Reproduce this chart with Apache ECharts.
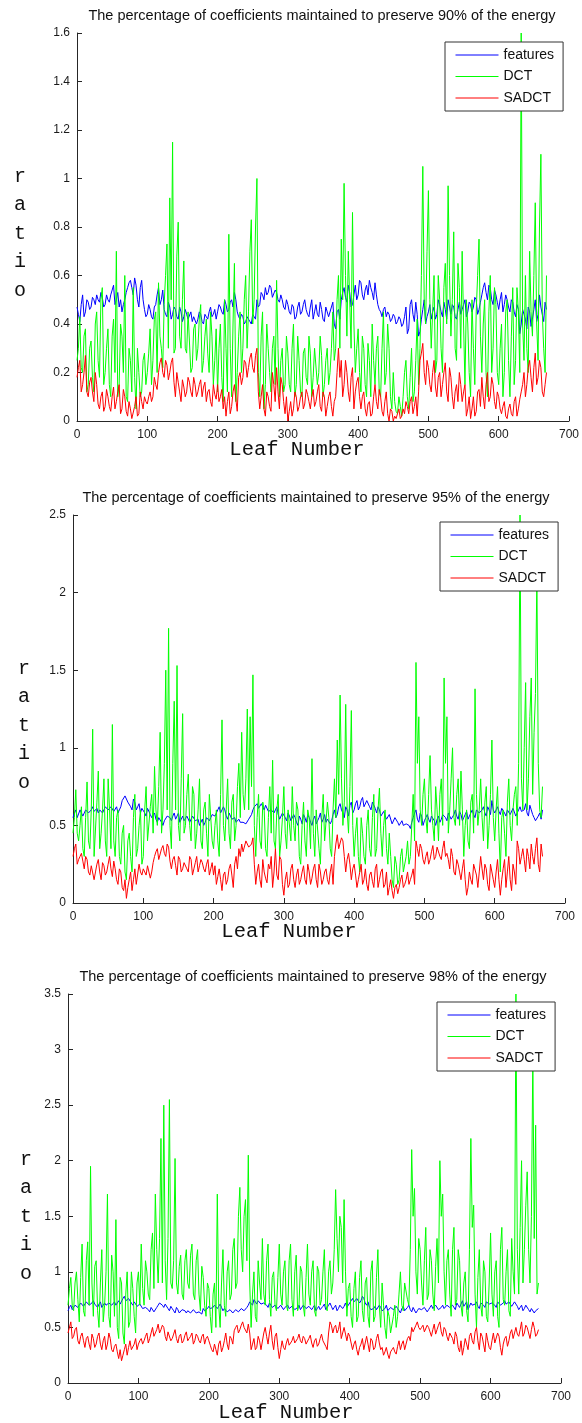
<!DOCTYPE html>
<html>
<head>
<meta charset="utf-8">
<script src="https://cdn.jsdelivr.net/npm/echarts@6/dist/echarts.min.js"></script>
<style>
  html, body { margin: 0; padding: 0; background: #ffffff; }
  #chart { width: 582px; height: 1423px; }
</style>
</head>
<body>
<div id="chart"></div>
<script>
// Ratio of retained coefficients per leaf. The main arrays hold leaves 0, 4, 8, ... 668;
// the *Mid arrays hold the leaves in between (2, 6, 10, ... 666).
const LEAF_STEP = 4;

const seriesNames = ['features', 'DCT', 'SADCT'];
const titles = [
  'The percentage of coefficients maintained to preserve 90% of the energy',
  'The percentage of coefficients maintained to preserve 95% of the energy',
  'The percentage of coefficients maintained to preserve 98% of the energy'
];
const xAxisName = 'Leaf Number';
const yAxisName = 'ratio';

// ---- 90% energy ----
const features90 = [
  0.47,0.41,0.52,0.45,0.49, 0.47,0.5,0.52,0.49,0.51, 0.48,0.5,0.52,0.56,0.5, 0.47,0.45,0.5,0.55,0.58, 0.52,0.56,0.47,0.58,0.46,
  0.44,0.46,0.42,0.48,0.55, 0.5,0.46,0.43,0.47,0.44, 0.46,0.42,0.45,0.43,0.44, 0.42,0.41,0.43,0.42,0.44, 0.4,0.43,0.45,0.43,0.46,
  0.45,0.47,0.44,0.48,0.46, 0.5,0.53,0.45,0.42,0.43, 0.41,0.42,0.4,0.43,0.5, 0.48,0.52,0.55,0.53,0.55, 0.51,0.53,0.49,0.5,0.46,
  0.48,0.44,0.47,0.43,0.49, 0.45,0.5,0.44,0.47,0.42, 0.48,0.43,0.46,0.41,0.45, 0.43,0.49,0.38,0.46,0.5, 0.55,0.49,0.53,0.48,0.56,
  0.52,0.57,0.5,0.56,0.58, 0.53,0.57,0.48,0.45,0.46, 0.43,0.44,0.42,0.43,0.41, 0.42,0.4,0.47,0.38,0.5, 0.41,0.44,0.37,0.46,0.4,
  0.45,0.42,0.47,0.44,0.48, 0.43,0.46,0.5,0.44,0.47, 0.42,0.49,0.46,0.5,0.45, 0.48,0.47,0.5,0.46,0.52, 0.57,0.5,0.55,0.48,0.52,
  0.46,0.53,0.48,0.5,0.45, 0.49,0.43,0.46,0.4,0.44, 0.38,0.45,0.42,0.5,0.44, 0.47,0.41,0.46
];
const features90Mid = [
  0.44,0.48,0.43,0.5,0.46, 0.51,0.48,0.5,0.53,0.47, 0.52,0.49,0.54,0.48,0.53, 0.5,0.48,0.53,0.57,0.55, 0.59,0.5,0.55,0.5,0.43,
  0.48,0.43,0.47,0.52,0.48, 0.54,0.44,0.49,0.42,0.47, 0.43,0.47,0.41,0.46,0.42, 0.45,0.43,0.4,0.45,0.41, 0.44,0.42,0.47,0.44,0.42,
  0.48,0.45,0.5,0.45,0.49, 0.47,0.5,0.43,0.44,0.4, 0.43,0.41,0.44,0.42,0.47, 0.53,0.5,0.52,0.56,0.51, 0.54,0.5,0.52,0.47,0.5,
  0.45,0.48,0.42,0.47,0.44, 0.48,0.46,0.43,0.5,0.45, 0.44,0.49,0.42,0.47,0.43, 0.47,0.4,0.45,0.42,0.53, 0.51,0.56,0.47,0.52,0.5,
  0.58,0.52,0.54,0.52,0.55, 0.5,0.52,0.46,0.43,0.47, 0.45,0.41,0.44,0.4,0.43, 0.39,0.43,0.36,0.48,0.44, 0.49,0.35,0.42,0.5,0.43,
  0.48,0.45,0.42,0.5,0.45, 0.49,0.42,0.47,0.48,0.43, 0.46,0.44,0.48,0.43,0.49, 0.45,0.51,0.44,0.49,0.55, 0.53,0.56,0.5,0.54,0.49,
  0.5,0.45,0.52,0.47,0.5, 0.45,0.48,0.36,0.46,0.42, 0.47,0.39,0.46,0.41,0.52, 0.44,0.49
];
const dct90 = [
  0.25,0.43,0.2,0.38,0.15, 0.33,0.12,0.45,0.18,0.55, 0.2,0.38,0.1,0.42,0.7, 0.15,0.35,0.6,0.08,0.25, 0.55,0.05,0.2,0.12,0.28,
  0.2,0.38,0.25,0.45,0.57, 0.3,0.48,0.73,0.92,1.15, 0.3,0.82,0.3,0.66,0.28, 0.45,0.22,0.4,0.3,0.48, 0.25,0.42,0.2,0.35,0.25,
  0.12,0.4,0.08,0.3,0.77, 0.1,0.65,0.2,0.45,0.3, 0.6,0.45,0.83,0.5,1.0, 0.1,0.45,0.15,0.3,0.12, 0.35,0.58,0.1,0.3,0.15,
  0.28,0.12,0.4,0.15,0.25, 0.1,0.3,0.15,0.28,0.18, 0.3,0.2,0.27,0.15,0.3, 0.2,0.45,0.3,0.6,0.75, 0.98,0.35,0.5,0.86,0.2,
  0.38,0.12,0.3,0.1,0.25, 0.4,0.15,0.35,0.1,0.45, 0.2,0.3,0.05,0.08,0.03, 0.06,0.1,0.25,0.05,0.3, 0.12,0.42,0.3,1.05,0.4,
  0.95,0.3,0.6,0.25,0.5, 0.2,0.65,0.97,0.35,0.78, 0.25,0.55,0.7,0.15,0.4, 0.1,0.3,0.45,0.75,0.2, 0.5,0.1,0.6,0.3,0.48,
  0.15,0.4,0.2,0.5,0.1, 0.55,0.25,0.45,1.6,0.25, 0.3,0.7,0.35,0.9,0.25, 1.1,0.3,0.6
];
const dct90Mid = [
  0.3,0.22,0.35,0.12,0.3, 0.18,0.4,0.25,0.5,0.15, 0.3,0.15,0.35,0.2,0.1, 0.4,0.2,0.1,0.3,0.12, 0.18,0.3,0.1,0.25,0.15,
  0.28,0.15,0.42,0.2,0.35, 0.22,0.6,0.3,0.5,0.28, 0.68,0.35,0.5,0.3,0.45, 0.2,0.38,0.25,0.42,0.2, 0.35,0.28,0.45,0.15,0.38,
  0.3,0.18,0.5,0.12,0.3, 0.4,0.08,0.35,0.2,0.5, 0.3,0.7,0.4,0.8,0.2, 0.35,0.05,0.4,0.2,0.3, 0.15,0.3,0.25,0.12,0.35,
  0.15,0.3,0.1,0.35,0.12, 0.28,0.18,0.35,0.1,0.3, 0.15,0.35,0.1,0.25,0.15, 0.3,0.25,0.5,0.3,0.5, 0.6,0.7,0.3,0.4,0.3,
  0.2,0.35,0.15,0.32,0.1, 0.25,0.3,0.12,0.3,0.15, 0.4,0.1,0.2,0.04,0.1, 0.02,0.2,0.1,0.18,0.08, 0.25,0.15,0.6,0.5,0.7,
  0.5,0.45,0.2,0.6,0.3, 0.55,0.4,0.6,0.5,0.3, 0.65,0.3,0.4,0.5,0.2, 0.5,0.15,0.6,0.35,0.4, 0.2,0.45,0.2,0.55,0.2,
  0.3,0.1,0.45,0.25,0.35, 0.15,0.55,0.2,0.4,0.6, 0.2,0.45,0.6,0.4,0.8, 0.45,0.2
];
const sadct90 = [
  0.18,0.25,0.15,0.27,0.1, 0.18,0.08,0.15,0.05,0.12, 0.06,0.1,0.04,0.14,0.08, 0.15,0.05,0.1,0.02,0.05, 0.01,0.1,0.03,0.08,0.1,
  0.07,0.12,0.1,0.15,0.2, 0.26,0.18,0.23,0.2,0.26, 0.1,0.16,0.08,0.14,0.12, 0.16,0.1,0.15,0.12,0.17, 0.14,0.08,0.13,0.06,0.11,
  0.15,0.1,0.05,0.02,0.12, 0.06,0.15,0.04,0.2,0.18, 0.24,0.22,0.28,0.2,0.3, 0.05,0.15,0.02,0.1,0.04, 0.15,0.22,0.05,0.15,0.03,
  0,0.08,0.05,0.1,0.06, 0.12,0.07,0.11,0.05,0.13, 0.08,0.15,0.04,0.1,0.06, 0.12,0.02,0.1,0.3,0.25, 0.15,0.2,0.08,0.22,0.12,
  0.18,0.05,0.12,0.02,0.08, 0.03,0.15,0.05,0.1,0.02, 0.12,0,0.04,0.02,0.03, 0.01,0.05,0.08,0.03,0.1, 0.06,0.02,0.25,0.32,0.15,
  0.22,0.12,0.25,0.1,0.2, 0.15,0.24,0.08,0.18,0.05, 0.15,0.2,0.08,0.15,0.05, 0.01,0.1,0.04,0.13,0.18, 0.05,0.2,0.1,0.15,0.05,
  0.1,0.03,0.08,0.01,0.07, 0.02,0.1,0.05,0.12,0.2, 0.15,0.25,0.12,0.28,0.18, 0.22,0.1,0.2
];
const sadct90Mid = [
  0.22,0.12,0.2,0.12,0.16, 0.12,0.2,0.07,0.1,0.04, 0.13,0.06,0.1,0.05,0.12, 0.03,0.13,0.04,0.08,0.01, 0.06,0.02,0.12,0.05,0.08,
  0.1,0.08,0.18,0.13,0.24, 0.2,0.25,0.17,0.24,0.16, 0.2,0.12,0.17,0.1,0.18, 0.12,0.18,0.1,0.15,0.1, 0.16,0.12,0.08,0.15,0.09,
  0.08,0.13,0.1,0.08,0.03, 0.12,0.09,0.18,0.15,0.25, 0.18,0.26,0.22,0.27,0.12, 0.1,0.05,0.12,0.06,0.2, 0.08,0.12,0.18,0.08,0.1,
  0.04,0.02,0.12,0.04,0.1, 0.05,0.13,0.08,0.1,0.06, 0.12,0.06,0.12,0.02,0.1, 0.06,0.08,0.2,0.18,0.1, 0.25,0.12,0.18,0.05,0.16,
  0.1,0.1,0.05,0.07,0.02, 0.1,0.08,0.13,0.04,0.08, 0.03,0.05,0,0.01,0.05, 0.02,0.03,0.06,0.08,0.03, 0.1,0.12,0.28,0.2,0.25,
  0.15,0.2,0.14,0.18,0.1, 0.2,0.12,0.22,0.1,0.12, 0.08,0.15,0.12,0.02,0.1, 0.05,0.02,0.12,0.06,0.1, 0.15,0.08,0.18,0.08,0.12,
  0.05,0.06,0.02,0.05,0.03, 0.08,0.02,0.09,0.15,0.1, 0.22,0.18,0.22,0.15,0.25, 0.12,0.15
];

// ---- 95% energy ----
const features95 = [
  0.55,0.6,0.56,0.59,0.57, 0.61,0.58,0.62,0.6,0.58, 0.61,0.6,0.62,0.59,0.61, 0.6,0.58,0.62,0.65,0.68, 0.66,0.6,0.65,0.62,0.58,
  0.6,0.56,0.6,0.55,0.58, 0.52,0.56,0.5,0.54,0.57, 0.53,0.58,0.55,0.52,0.56, 0.54,0.57,0.53,0.55,0.52, 0.5,0.54,0.52,0.56,0.55,
  0.58,0.55,0.62,0.57,0.6, 0.54,0.56,0.53,0.52,0.54, 0.51,0.53,0.52,0.55,0.6, 0.63,0.61,0.64,0.6,0.62, 0.58,0.61,0.6,0.57,0.55,
  0.57,0.53,0.56,0.52,0.55, 0.5,0.54,0.57,0.52,0.55, 0.5,0.56,0.53,0.58,0.54, 0.52,0.55,0.53,0.6,0.57, 0.64,0.58,0.62,0.56,0.65,
  0.6,0.66,0.62,0.68,0.63, 0.67,0.6,0.64,0.58,0.6, 0.55,0.58,0.53,0.56,0.52, 0.54,0.5,0.53,0.49,0.52, 0.48,0.55,0.6,0.52,0.56,
  0.53,0.57,0.52,0.55,0.5, 0.56,0.54,0.58,0.53,0.56, 0.55,0.6,0.54,0.57,0.55, 0.59,0.56,0.6,0.55,0.61, 0.57,0.62,0.56,0.6,0.66,
  0.58,0.62,0.57,0.6,0.56, 0.61,0.58,0.6,0.57,0.62, 0.58,0.64,0.56,0.6,0.55, 0.52,0.58,0.6
];
const features95Mid = [
  0.58,0.55,0.6,0.56,0.6, 0.58,0.6,0.59,0.61,0.6, 0.58,0.62,0.6,0.62,0.59, 0.62,0.6,0.66,0.69,0.65, 0.62,0.67,0.6,0.64,0.61,
  0.58,0.61,0.57,0.56,0.54, 0.55,0.52,0.53,0.56,0.55, 0.56,0.54,0.58,0.54,0.53, 0.56,0.52,0.56,0.53,0.54, 0.52,0.5,0.55,0.53,0.57,
  0.56,0.6,0.58,0.62,0.56, 0.58,0.54,0.55,0.53,0.52, 0.52,0.51,0.54,0.57,0.62, 0.64,0.62,0.62,0.63,0.59, 0.6,0.58,0.62,0.54,0.58,
  0.55,0.58,0.53,0.57,0.52, 0.56,0.51,0.55,0.57,0.52, 0.54,0.51,0.55,0.52,0.57, 0.54,0.51,0.57,0.55,0.62, 0.6,0.55,0.6,0.63,0.58,
  0.64,0.6,0.66,0.62,0.66, 0.62,0.65,0.61,0.62,0.56, 0.59,0.54,0.57,0.51,0.55, 0.52,0.51,0.5,0.51,0.5, 0.52,0.58,0.54,0.58,0.5,
  0.55,0.54,0.56,0.53,0.54, 0.52,0.57,0.55,0.58,0.54, 0.57,0.56,0.59,0.53,0.57, 0.54,0.58,0.57,0.6,0.58, 0.6,0.58,0.62,0.57,0.6,
  0.6,0.59,0.61,0.58,0.6, 0.57,0.61,0.56,0.6,0.59, 0.6,0.58,0.63,0.57,0.53, 0.56,0.54
];
const dct95 = [
  0.45,0.73,0.4,0.62,0.3, 0.78,0.35,1.12,0.3,0.85, 0.45,0.8,0.3,0.6,1.15, 0.3,0.6,0.25,0.5,0.15, 0.45,0.2,0.7,0.35,0.6,
  0.3,0.75,0.4,0.7,0.88, 0.5,1.1,0.6,1.5,1.77, 0.35,1.3,1.53,0.4,1.22, 0.5,0.83,0.4,0.7,0.45, 0.8,0.35,0.65,0.3,0.55,
  0.35,0.6,0.3,1.18,0.4, 0.8,0.35,0.7,0.5,0.9, 1.1,0.6,1.25,1.2,1.47, 0.3,0.7,0.35,0.6,0.3, 0.75,0.92,0.35,0.7,0.4,
  0.75,0.35,0.6,0.75,0.4, 0.6,0.25,0.65,0.3,0.55, 0.93,0.3,0.6,0.25,0.7, 0.4,0.55,0.3,0.8,1.05, 1.34,0.5,1.28,0.45,1.24,
  0.3,0.55,0.2,0.45,0.25, 0.6,0.3,0.7,0.35,0.74, 0.3,0.6,0.25,0.3,0.1, 0.25,0.15,0.35,0.2,0.4, 0.3,0.7,1.55,1.2,0.5,
  0.8,0.45,0.95,0.5,0.75, 0.4,0.8,1.45,1.2,0.6, 1.0,0.5,0.8,0.85,0.3, 0.6,0.35,0.7,1.38,0.5, 0.8,0.4,0.75,0.5,1.05,
  0.4,0.75,0.2,0.6,0.3, 0.8,0.4,0.7,0.5,2.5, 0.6,1.42,0.8,1.45,1.1, 2.1,0.6,0.75
];
const dct95Mid = [
  0.55,0.45,0.5,0.35,0.55, 0.4,0.6,0.3,0.65,0.35, 0.6,0.4,0.8,0.35,0.4, 0.55,0.3,0.45,0.2,0.4, 0.3,0.55,0.3,0.5,0.25,
  0.6,0.4,0.62,0.45,0.6, 0.75,0.45,0.9,0.6,0.5, 0.9,0.6,0.5,0.8,0.45, 0.7,0.5,0.75,0.35,0.6, 0.4,0.6,0.45,0.7,0.4,
  0.5,0.4,0.7,0.5,0.6, 0.45,0.65,0.4,0.75,0.55, 0.7,0.8,0.6,0.75,0.5, 0.55,0.4,0.65,0.35,0.55, 0.45,0.4,0.6,0.3,0.55,
  0.45,0.6,0.4,0.5,0.65, 0.3,0.5,0.4,0.6,0.35, 0.45,0.6,0.35,0.55,0.4, 0.65,0.35,0.6,0.55,0.7, 0.8,0.65,0.6,0.75,0.5,
  0.45,0.3,0.55,0.3,0.5, 0.35,0.55,0.3,0.6,0.45, 0.5,0.35,0.45,0.15,0.3, 0.12,0.3,0.2,0.3,0.25, 0.5,0.4,0.9,0.6,0.7,
  0.55,0.7,0.6,0.4,0.6, 0.7,0.5,0.9,0.45,0.8, 0.55,0.7,0.5,0.6,0.5, 0.4,0.65,0.45,0.7,0.6, 0.55,0.65,0.35,0.7,0.55,
  0.6,0.45,0.55,0.45,0.65, 0.5,0.6,0.75,0.9,0.8, 1.0,0.6,1.2,0.7,1.35, 0.9,0.55
];
const sadct95 = [
  0.3,0.38,0.28,0.32,0.22, 0.28,0.18,0.25,0.2,0.28, 0.15,0.24,0.2,0.3,0.17, 0.22,0.12,0.2,0.08,0.03, 0.15,0.08,0.22,0.12,0.2,
  0.22,0.18,0.25,0.2,0.3, 0.35,0.28,0.37,0.3,0.36, 0.22,0.3,0.18,0.28,0.22, 0.27,0.2,0.28,0.22,0.3, 0.24,0.26,0.2,0.28,0.22,
  0.18,0.12,0.22,0.08,0.2, 0.15,0.25,0.1,0.3,0.35, 0.38,0.33,0.4,0.36,0.42, 0.12,0.25,0.1,0.2,0.13, 0.22,0.1,0.35,0.15,0.28,
  0.05,0.2,0.12,0.25,0.1, 0.22,0.15,0.24,0.12,0.2, 0.16,0.25,0.1,0.2,0.15, 0.22,0.12,0.25,0.3,0.44, 0.35,0.4,0.2,0.32,0.15,
  0.25,0.1,0.2,0.12,0.22, 0.08,0.2,0.1,0.25,0.15, 0.22,0.12,0.05,0.15,0.03, 0.12,0.1,0.18,0.12,0.2, 0.15,0.22,0.4,0.3,0.35,
  0.25,0.33,0.28,0.37,0.3, 0.35,0.28,0.4,0.32,0.22, 0.3,0.18,0.25,0.15,0.28, 0.05,0.2,0.12,0.25,0.1, 0.3,0.15,0.22,0.08,0.2,
  0.1,0.28,0.05,0.22,0.1, 0.3,0.08,0.2,0.4,0.25, 0.35,0.2,0.3,0.38,0.25, 0.42,0.2,0.3
];
const sadct95Mid = [
  0.35,0.25,0.3,0.27,0.3, 0.2,0.24,0.15,0.25,0.2, 0.26,0.18,0.25,0.22,0.27, 0.15,0.22,0.1,0.15,0.1, 0.2,0.15,0.12,0.25,0.18,
  0.2,0.24,0.16,0.26,0.33, 0.28,0.35,0.32,0.38,0.27, 0.28,0.24,0.3,0.2,0.26, 0.22,0.3,0.18,0.26,0.2, 0.28,0.22,0.25,0.18,0.26,
  0.24,0.17,0.15,0.18,0.12, 0.22,0.18,0.25,0.22,0.3, 0.33,0.4,0.36,0.38,0.25, 0.2,0.15,0.28,0.16,0.25, 0.3,0.2,0.18,0.3,0.12,
  0.15,0.1,0.22,0.15,0.18, 0.12,0.2,0.15,0.25,0.12, 0.22,0.15,0.25,0.12,0.2, 0.15,0.2,0.12,0.38,0.35, 0.42,0.3,0.28,0.25,0.22,
  0.18,0.15,0.25,0.15,0.12, 0.18,0.14,0.22,0.1,0.2, 0.1,0.2,0.1,0.08,0.1, 0.06,0.15,0.1,0.15,0.12, 0.18,0.12,0.35,0.38,0.28,
  0.3,0.25,0.33,0.28,0.36, 0.3,0.35,0.3,0.28,0.35, 0.2,0.28,0.2,0.22,0.15, 0.1,0.15,0.25,0.18,0.2, 0.22,0.25,0.12,0.25,0.15,
  0.2,0.15,0.15,0.28,0.2, 0.15,0.25,0.12,0.35,0.3, 0.28,0.35,0.22,0.3,0.35, 0.25,0.38
];

// ---- 98% energy ----
const features98 = [
  0.65,0.7,0.66,0.71,0.68, 0.73,0.7,0.72,0.69,0.74, 0.7,0.71,0.68,0.72,0.69, 0.73,0.71,0.7,0.74,0.72, 0.78,0.73,0.75,0.7,0.72,
  0.68,0.7,0.66,0.69,0.64, 0.67,0.65,0.7,0.73,0.68, 0.7,0.65,0.67,0.63,0.66, 0.64,0.67,0.63,0.66,0.64, 0.65,0.62,0.64,0.67,0.66,
  0.69,0.66,0.7,0.67,0.71, 0.65,0.66,0.63,0.65,0.64, 0.67,0.65,0.68,0.66,0.7, 0.72,0.75,0.71,0.73,0.7, 0.72,0.68,0.7,0.67,0.69,
  0.67,0.69,0.68,0.7,0.66, 0.68,0.65,0.7,0.67,0.69, 0.66,0.7,0.68,0.65,0.69, 0.67,0.71,0.68,0.72,0.66, 0.7,0.67,0.71,0.69,0.68,
  0.72,0.76,0.73,0.77,0.74, 0.76,0.7,0.68,0.65,0.69, 0.66,0.68,0.64,0.7,0.66, 0.69,0.65,0.67,0.63,0.69, 0.66,0.7,0.64,0.67,0.65,
  0.68,0.65,0.69,0.66,0.7, 0.67,0.69,0.66,0.7,0.68, 0.71,0.67,0.69,0.72,0.68, 0.74,0.7,0.66,0.72,0.69, 0.73,0.67,0.71,0.68,0.74,
  0.7,0.73,0.68,0.72,0.69, 0.74,0.7,0.72,0.68,0.71, 0.66,0.7,0.67,0.69,0.64, 0.68,0.65,0.67
];
const features98Mid = [
  0.68,0.66,0.7,0.68,0.72, 0.69,0.73,0.7,0.72,0.71, 0.68,0.73,0.7,0.7,0.72, 0.7,0.73,0.72,0.71,0.76, 0.74,0.76,0.72,0.73,0.69,
  0.71,0.67,0.68,0.66,0.68, 0.64,0.68,0.72,0.7,0.71, 0.67,0.69,0.65,0.68,0.63, 0.66,0.65,0.65,0.63,0.66, 0.63,0.64,0.62,0.65,0.67,
  0.67,0.68,0.69,0.66,0.68, 0.67,0.64,0.66,0.63,0.66, 0.64,0.67,0.65,0.68,0.73, 0.7,0.73,0.74,0.71,0.72, 0.7,0.72,0.68,0.7,0.67,
  0.7,0.66,0.69,0.67,0.69, 0.66,0.68,0.66,0.7,0.67, 0.69,0.66,0.7,0.67,0.66, 0.69,0.66,0.7,0.69,0.68, 0.65,0.7,0.67,0.72,0.7,
  0.74,0.73,0.76,0.72,0.78, 0.72,0.73,0.66,0.67,0.66, 0.7,0.65,0.67,0.65,0.68, 0.66,0.69,0.65,0.67,0.65, 0.68,0.66,0.68,0.63,0.67,
  0.66,0.68,0.64,0.68,0.67, 0.7,0.66,0.68,0.67,0.7, 0.68,0.7,0.66,0.7,0.71, 0.69,0.73,0.69,0.7,0.71, 0.69,0.72,0.7,0.73,0.71,
  0.72,0.7,0.73,0.7,0.72, 0.71,0.73,0.69,0.73,0.69, 0.68,0.65,0.7,0.66,0.67, 0.63,0.66
];
const dct98 = [
  0.7,0.95,0.65,1.0,0.55, 1.25,0.6,1.27,1.95,0.6, 1.1,0.5,1.2,0.7,1.7, 0.5,1.0,1.47,0.4,0.9, 0.35,1.0,0.55,0.85,0.45,
  1.0,1.25,0.7,1.0,0.75, 1.35,1.7,0.9,2.2,2.5, 0.75,2.55,0.85,2.02,0.8, 1.15,0.75,1.2,0.85,1.25, 0.75,1.2,0.65,0.95,0.6,
  0.85,0.45,0.9,1.7,0.5, 1.2,0.6,1.1,0.8,1.3, 0.9,1.76,1.0,1.65,2.05, 0.5,1.0,0.55,0.9,1.3, 0.7,1.25,0.6,1.0,0.65,
  1.25,0.7,1.1,0.65,1.25, 0.6,1.15,0.7,1.0,0.6, 1.25,0.7,1.1,0.6,1.0, 0.75,1.2,0.65,1.1,0.9, 1.74,1.0,1.4,1.65,0.6,
  0.9,0.5,1.0,0.6,1.1, 0.55,0.95,0.5,1.1,0.6, 1.2,0.5,0.7,0.4,0.6, 0.45,0.7,0.6,1.0,0.65, 0.9,0.7,2.1,1.75,0.8,
  1.2,0.7,1.4,0.8,1.1, 0.65,1.3,2.0,1.7,0.7, 1.2,0.6,1.4,0.75,1.1, 0.6,1.0,0.55,2.2,1.6, 0.5,1.2,0.6,1.0,0.55,
  1.35,0.6,1.1,0.5,1.4, 0.7,1.2,0.6,1.0,3.5, 0.8,2.0,1.2,1.9,0.9, 2.95,2.32,0.9
];
const dct98Mid = [
  0.85,0.7,0.9,0.75,0.95, 0.65,1.1,0.7,0.9,1.05, 0.65,0.9,0.55,1.0,0.6, 1.15,0.6,0.5,0.95,0.45, 0.8,0.5,1.0,0.6,0.9,
  0.7,0.85,1.1,0.8,1.2, 0.85,1.2,1.3,0.9,1.1, 1.3,0.9,1.1,0.9,1.05, 0.8,1.1,0.9,1.15,0.8, 1.1,0.8,1.05,0.7,0.9,
  0.6,0.8,0.5,0.7,0.9, 0.7,1.0,0.75,1.2,0.85, 1.5,1.2,1.5,1.1,0.9, 0.8,0.6,1.1,0.75,0.8, 1.1,0.75,0.95,0.7,0.95,
  0.8,1.0,0.7,1.1,0.75, 1.0,0.65,1.05,0.7,0.95, 0.8,1.0,0.65,1.05,0.7, 1.0,0.7,1.0,0.8,1.2, 1.3,1.5,0.9,1.0,0.85,
  0.6,0.85,0.55,0.95,0.65, 0.9,0.6,1.0,0.55,0.95, 0.7,0.9,0.5,0.65,0.45, 0.6,0.5,0.8,0.7,0.9, 0.75,1.2,1.5,1.0,1.3,
  0.9,1.1,0.75,1.2,0.8, 1.05,0.9,1.5,1.0,1.1, 0.8,1.2,0.7,1.2,0.7, 0.9,0.65,1.2,1.4,0.8, 0.95,0.7,1.1,0.6,0.9,
  0.8,1.0,0.6,1.2,0.75, 1.0,0.65,1.3,0.8,1.2, 1.4,0.9,1.6,1.2,1.5, 1.3,0.8
];
const sadct98 = [
  0.45,0.55,0.42,0.5,0.35, 0.45,0.32,0.42,0.3,0.4, 0.35,0.45,0.3,0.42,0.35, 0.4,0.28,0.35,0.22,0.2, 0.3,0.25,0.38,0.3,0.4,
  0.35,0.4,0.38,0.45,0.4, 0.5,0.45,0.53,0.48,0.5, 0.38,0.45,0.4,0.48,0.36, 0.44,0.38,0.46,0.4,0.45, 0.38,0.42,0.36,0.44,0.4,
  0.38,0.3,0.35,0.25,0.38, 0.32,0.45,0.3,0.4,0.47, 0.52,0.48,0.55,0.5,0.53, 0.3,0.4,0.32,0.38,0.3, 0.5,0.35,0.52,0.3,0.45,
  0.22,0.38,0.3,0.4,0.33, 0.42,0.35,0.44,0.36,0.4, 0.34,0.43,0.32,0.4,0.35, 0.44,0.37,0.3,0.55,0.45, 0.52,0.48,0.4,0.5,0.38,
  0.42,0.3,0.38,0.25,0.35, 0.3,0.42,0.28,0.38,0.32, 0.44,0.3,0.25,0.32,0.22, 0.3,0.28,0.33,0.3,0.38, 0.35,0.42,0.5,0.45,0.55,
  0.48,0.52,0.45,0.5,0.42, 0.53,0.48,0.55,0.42,0.48, 0.38,0.45,0.35,0.42,0.28, 0.25,0.4,0.3,0.45,0.35, 0.5,0.3,0.42,0.28,0.38,
  0.3,0.45,0.35,0.42,0.25, 0.4,0.33,0.45,0.4,0.5, 0.42,0.55,0.45,0.5,0.4, 0.55,0.42,0.48
];
const sadct98Mid = [
  0.5,0.4,0.48,0.38,0.42, 0.38,0.4,0.35,0.44,0.32, 0.42,0.35,0.38,0.3,0.45, 0.3,0.33,0.28,0.3,0.25, 0.35,0.32,0.3,0.35,0.3,
  0.38,0.35,0.42,0.36,0.45, 0.42,0.48,0.45,0.52,0.42, 0.46,0.38,0.44,0.4,0.42, 0.36,0.43,0.38,0.42,0.35, 0.44,0.38,0.42,0.35,0.42,
  0.34,0.28,0.3,0.35,0.28, 0.38,0.35,0.42,0.35,0.5, 0.45,0.52,0.5,0.45,0.45, 0.35,0.3,0.42,0.3,0.45, 0.42,0.45,0.38,0.42,0.32,
  0.3,0.32,0.36,0.34,0.38, 0.36,0.4,0.38,0.42,0.35, 0.4,0.36,0.38,0.33,0.4, 0.38,0.33,0.45,0.52,0.5, 0.45,0.55,0.45,0.44,0.45,
  0.36,0.35,0.3,0.32,0.4, 0.36,0.35,0.4,0.3,0.4, 0.36,0.32,0.28,0.26,0.28, 0.32,0.26,0.38,0.35,0.3, 0.4,0.38,0.46,0.52,0.5,
  0.5,0.46,0.52,0.46,0.48, 0.44,0.52,0.46,0.5,0.42, 0.45,0.4,0.46,0.32,0.38, 0.32,0.35,0.42,0.38,0.46, 0.38,0.45,0.35,0.45,0.32,
  0.38,0.36,0.45,0.32,0.35, 0.42,0.38,0.48,0.45,0.44, 0.48,0.42,0.52,0.45,0.48, 0.5,0.44
];

const lineColors = ['#0000ff', '#00ff00', '#ff0000'];
const TEXT_FONT = '"Liberation Sans", Arial, Helvetica, sans-serif';
const MONO_FONT = '"Liberation Mono", "Courier New", monospace';

// Layout of the three stacked panels (pixels).
const panels = [
  { values: [[features90, features90Mid], [dct90, dct90Mid], [sadct90, sadct90Mid]],
    yMax: 1.6, yStep: 0.2,
    grid: { left: 77, top: 33, width: 493, height: 388 },
    legend: { left: 445, top: 42 },
    titlePos: [322, 16], xNamePos: [297, 450], yNamePos: [20, 162] },
  { values: [[features95, features95Mid], [dct95, dct95Mid], [sadct95, sadct95Mid]],
    yMax: 2.5, yStep: 0.5,
    grid: { left: 73, top: 515, width: 492, height: 388 },
    legend: { left: 440, top: 522 },
    titlePos: [316, 498], xNamePos: [289, 932], yNamePos: [24, 654] },
  { values: [[features98, features98Mid], [dct98, dct98Mid], [sadct98, sadct98Mid]],
    yMax: 3.5, yStep: 0.5,
    grid: { left: 68, top: 994, width: 493, height: 389 },
    legend: { left: 437, top: 1002 },
    titlePos: [313, 977], xNamePos: [286, 1413], yNamePos: [26, 1145] }
];

// Interleave the leaf-aligned and in-between samples into [leaf, ratio] pairs.
function toPairs(main, mid) {
  const out = [];
  main.forEach((v, i) => {
    out.push([i * LEAF_STEP, v]);
    if (i < mid.length) out.push([i * LEAF_STEP + LEAF_STEP / 2, mid[i]]);
  });
  return out;
}

const axisLineStyle = { color: '#262626', width: 1 };
const tickLabel = { color: '#1a1a1a', fontSize: 12, fontFamily: TEXT_FONT };

const option = {
  animation: false,
  backgroundColor: '#ffffff',
  grid: panels.map(p => Object.assign({ containLabel: false }, p.grid)),
  xAxis: panels.map((p, i) => ({
    type: 'value', gridIndex: i, min: 0, max: 700, interval: 100,
    axisLine: { show: true, lineStyle: axisLineStyle, onZero: false },
    axisTick: { show: true, inside: true, length: 5, lineStyle: axisLineStyle },
    axisLabel: Object.assign({ margin: 8 }, tickLabel),
    splitLine: { show: false }
  })),
  yAxis: panels.map((p, i) => ({
    type: 'value', gridIndex: i, min: 0, max: p.yMax, interval: p.yStep,
    axisLine: { show: true, lineStyle: axisLineStyle },
    axisTick: { show: true, inside: true, length: 5, lineStyle: axisLineStyle },
    axisLabel: Object.assign({ margin: 7 }, tickLabel),
    splitLine: { show: false }
  })),
  // Legend keys: the line series' own line sample, with its marker hidden.
  legend: panels.map(p => ({
    orient: 'vertical', left: p.legend.left, top: p.legend.top,
    data: seriesNames.slice(),
    itemWidth: 43, itemHeight: 14,
    itemGap: 7.5, padding: [6, 9, 6, 10],
    itemStyle: { opacity: 0 },
    lineStyle: { width: 1 },
    backgroundColor: '#ffffff', borderColor: '#333333', borderWidth: 1,
    selectedMode: false,
    textStyle: { color: '#111111', fontSize: 14, lineHeight: 14, fontFamily: TEXT_FONT }
  })),
  series: [],
  graphic: []
};

panels.forEach((p, i) => {
  p.values.forEach((pair, k) => {
    option.series.push({
      type: 'line', name: seriesNames[k], xAxisIndex: i, yAxisIndex: i,
      data: toPairs(pair[0], pair[1]), showSymbol: false, symbol: 'none', clip: true,
      color: lineColors[k],
      lineStyle: { color: lineColors[k], width: 1 },
      itemStyle: { color: lineColors[k] },
      emphasis: { disabled: true }
    });
  });
  option.graphic.push(
    { type: 'text', x: p.titlePos[0], y: p.titlePos[1],
      style: { text: titles[i], fill: '#111111', font: '14.5px ' + TEXT_FONT,
               textAlign: 'center', textVerticalAlign: 'middle' } },
    { type: 'text', x: p.xNamePos[0], y: p.xNamePos[1],
      style: { text: xAxisName, fill: '#111111', font: '20.5px ' + MONO_FONT,
               textAlign: 'center', textVerticalAlign: 'middle' } },
    { type: 'text', x: p.yNamePos[0], y: p.yNamePos[1],
      style: { text: yAxisName.split('').join('\n'), fill: '#111111', font: '20px ' + MONO_FONT,
               lineHeight: 28.5, textAlign: 'center', textVerticalAlign: 'top' } }
  );
});

const chart = echarts.init(document.getElementById('chart'), null, { renderer: 'canvas' });
chart.setOption(option);
</script>
</body>
</html>
